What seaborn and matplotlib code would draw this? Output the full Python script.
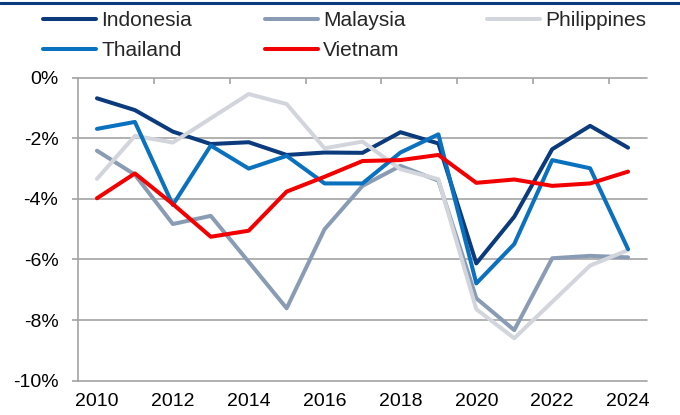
import matplotlib
matplotlib.use("Agg")
import matplotlib.pyplot as plt
from matplotlib.lines import Line2D
import numpy as np
import pandas as pd
import seaborn as sns

years = list(range(2010, 2025))
countries = ["Indonesia", "Malaysia", "Philippines", "Thailand", "Vietnam"]
indonesia = [-0.68, -1.07, -1.78, -2.19, -2.13, -2.55, -2.47, -2.48, -1.80, -2.17, -6.13, -4.59, -2.36, -1.59, -2.31]
malaysia = [-2.41, -3.20, -4.83, -4.56, -6.08, -7.61, -5.00, -3.57, -2.91, -3.40, -7.28, -8.33, -5.96, -5.88, -5.93]
philippines = [-3.34, -1.92, -2.14, -1.34, -0.54, -0.87, -2.33, -2.11, -3.02, -3.35, -7.64, -8.60, -7.40, -6.20, -5.69]
thailand = [-1.69, -1.46, -4.20, -2.24, -3.00, -2.58, -3.49, -3.49, -2.47, -1.87, -6.79, -5.49, -2.72, -2.99, -5.66]
vietnam = [-3.98, -3.16, -4.17, -5.25, -5.05, -3.76, -3.27, -2.75, -2.72, -2.55, -3.47, -3.36, -3.57, -3.49, -3.10]
y_ticks = [0, -2, -4, -6, -8, -10]
y_labels = ["0%", "-2%", "-4%", "-6%", "-8%", "-10%"]
x_ticks = years[::2]
x_labels = [str(y) for y in x_ticks]

colors = ["#0B3B7C", "#8A9BB4", "#D2D6DC", "#0A71BF", "#F20000"]

series = [indonesia, malaysia, philippines, thailand, vietnam]
df = pd.concat([pd.DataFrame({"year": years, "value": v, "country": c})
                for c, v in zip(countries, series)], ignore_index=True)

sns.set_theme(style="white")
plt.rcParams["font.family"] = ["Liberation Sans", "DejaVu Sans"]

fig = plt.figure(figsize=(6.8, 4.15), dpi=100)
ax = fig.add_axes([0.1147, 0.0827, 0.9515 - 0.1147, 0.8128 - 0.0827])

sns.lineplot(data=df, x="year", y="value", hue="country", hue_order=countries,
             palette=colors, linewidth=2.9, ax=ax, legend=False)

grid_c = "#A3A3A3"
ax.set_xlim(2009.5, 2024.5)
ax.set_ylim(-10, 0)
ax.set_yticks(y_ticks)
ax.set_yticklabels(y_labels)
ax.set_xticks(x_ticks)
ax.set_xticklabels(x_labels)
ax.set_xticks([y + 1.5 for y in x_ticks[:-1]], minor=True)
ax.set_xlabel("")
ax.set_ylabel("")
for y in y_ticks:
    ax.axhline(y, color=grid_c, lw=1.2, zorder=0, clip_on=False)
for s in ["top", "right", "bottom"]:
    ax.spines[s].set_visible(False)
ax.spines["left"].set_color(grid_c)
ax.spines["left"].set_linewidth(1.2)
ax.tick_params(axis="y", which="major", left=True, length=4.5, width=1.2,
               color=grid_c, pad=9.6, labelsize=14, labelcolor="black")
ax.tick_params(axis="x", which="major", bottom=False, top=False, length=0,
               pad=9, labelsize=14, labelcolor="black")
ax.tick_params(axis="x", which="minor", bottom=False, top=True, direction="in",
               length=4.5, width=1.2, color=grid_c)

# legend: three equal-width columns, rows filled left to right
handles = {c: Line2D([], [], color=col, lw=2.9) for c, col in zip(countries, colors)}
columns = [["Indonesia", "Thailand"], ["Malaysia", "Vietnam"], ["Philippines"]]
col_x = [43, 265, 487]
for names, x0 in zip(columns, col_x):
    fig.legend([handles[c] for c in names], names, loc="upper left",
               bbox_to_anchor=(x0 / 680, 1 - 11 / 415), frameon=False,
               fontsize=15, handlelength=2.55, handletextpad=0.24,
               labelspacing=0.52, borderaxespad=0.0, borderpad=0.0)

# top rule (cut-off header)
fig.add_artist(Line2D([0, 1], [1 - 3 / 415, 1 - 3 / 415], transform=fig.transFigure,
                      color="#0B3B7C", lw=2.2))

fig.savefig("out.png", dpi=100)
